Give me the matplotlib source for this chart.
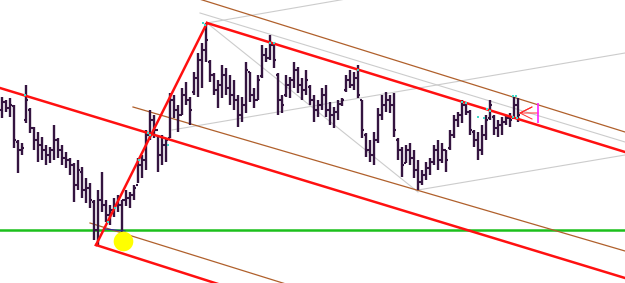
import numpy as np
import matplotlib
matplotlib.use("Agg")
import matplotlib.pyplot as plt

# chart rows: level grows downward (price scale is drawn inverted, like the terminal screen)
bar_hi = [97, 100, 98, 105, 140, 143, 85, 108, 127, 132,
          137, 145, 147, 125, 138, 145, 152, 158, 163, 160,
          167, 178, 183, 200, 190, 172, 200, 205, 198, 195,
          200, 190, 192, 185, 158, 155, 130, 110, 115, 135,
          135, 138, 93, 95, 105, 88, 82, 97, 72, 53,
          43, 23, 60, 73, 80, 65, 68, 75, 80, 95,
          97, 62, 72, 88, 75, 45, 48, 35, 42, 73,
          95, 75, 77, 62, 67, 78, 70, 85, 95, 100,
          88, 85, 102, 107, 100, 98, 75, 70, 72, 65,
          100, 133, 140, 132, 108, 95, 92, 95, 93, 138,
          147, 145, 143, 150, 160, 170, 162, 158, 145, 140,
          143, 150, 130, 115, 112, 100, 102, 110, 130, 132,
          125, 115, 100, 115, 120, 117, 115, 113, 97, 98]
bar_lo = [118, 112, 117, 148, 173, 155, 123, 133, 150, 162,
          160, 165, 163, 160, 158, 165, 168, 175, 202, 190,
          198, 203, 208, 240, 245, 212, 222, 225, 217, 212,
          237, 206, 208, 200, 183, 178, 170, 140, 138, 172,
          165, 162, 138, 118, 132, 115, 105, 125, 95, 97,
          88, 62, 82, 95, 108, 98, 95, 105, 110, 127,
          122, 113, 102, 108, 100, 78, 62, 60, 68, 115,
          113, 97, 98, 88, 93, 100, 95, 105, 122, 117,
          110, 117, 125, 128, 120, 106, 92, 88, 90, 98,
          138, 157, 162, 165, 143, 120, 112, 113, 137, 160,
          177, 163, 165, 178, 190, 185, 180, 175, 165, 170,
          163, 172, 150, 138, 127, 123, 115, 135, 147, 160,
          155, 140, 120, 135, 137, 135, 125, 127, 118, 122]
bar_open = [110, 102, 108, 106, 142, 150, 120, 110, 128, 140,
            145, 150, 155, 150, 140, 150, 158, 160, 165, 185,
            172, 190, 188, 202, 230, 200, 205, 215, 210, 205,
            205, 200, 198, 195, 185, 165, 160, 135, 120, 130,
            155, 145, 138, 100, 110, 115, 95, 100, 92, 78,
            60, 50, 62, 75, 90, 85, 75, 88, 95, 100,
            115, 105, 72, 95, 100, 76, 55, 58, 45, 75,
            100, 95, 85, 80, 70, 85, 90, 87, 100, 110,
            105, 95, 110, 115, 112, 104, 90, 80, 85, 78,
            100, 135, 150, 155, 140, 115, 105, 100, 105, 140,
            150, 163, 150, 158, 170, 182, 175, 168, 162, 150,
            160, 150, 148, 135, 120, 115, 105, 112, 132, 140,
            150, 135, 118, 117, 128, 125, 122, 118, 118, 105]
bar_close = [102, 108, 105, 140, 150, 148, 100, 128, 140, 145,
             150, 155, 150, 140, 150, 158, 160, 165, 185, 170,
             190, 188, 200, 230, 200, 205, 215, 210, 205, 205,
             200, 198, 195, 188, 165, 160, 135, 120, 130, 155,
             145, 140, 100, 110, 115, 95, 100, 110, 78, 60,
             50, 40, 75, 90, 85, 75, 88, 95, 100, 115,
             105, 70, 95, 100, 80, 55, 58, 45, 60, 100,
             105, 85, 80, 70, 85, 90, 80, 100, 110, 105,
             95, 110, 115, 112, 104, 100, 80, 85, 78, 95,
             130, 150, 155, 140, 115, 105, 100, 105, 130, 150,
             165, 150, 158, 170, 182, 175, 168, 162, 150, 160,
             150, 160, 135, 120, 115, 105, 112, 130, 140, 150,
             135, 120, 105, 128, 125, 122, 118, 120, 105, 115]

# trendlines as (bar0, level0, bar1, level1)
red_lines = [(-0.5, 88, 155.75, 278), (23.5, 245, 59.5, 291),
             (23.5, 245, 51.25, 23), (51.25, 23, 155.75, 152)]
brown_lines = [(48.5, -2, 155.75, 132), (32.75, 107, 155.75, 251),
               (22, 223, 75, 289)]
gray_lines = [(49.5, 13, 155.75, 142), (51.25, 23, 86, -1),
              (51.25, 23, 104, 192), (42.5, 130, 155.75, 53),
              (104, 190, 155.75, 155)]
support_level = 230
pivot_bar, pivot_level = 30.25, 241
touch_bar = [5.75, 26.5, 28.25, 34.25, 36.5, 37.0, 41.5, 50.25, 50.75, 67.0, 68.0,
             89.0, 115.0, 116.0, 121.25, 122.0, 127.75, 128.5, 127.75, 128.75,
             119.0, 120.5]
touch_level = [95, 222, 208, 160, 133, 135, 145, 23, 25, 43, 43,
               70, 102, 103, 109, 111, 96, 96, 117, 118, 117, 118]

fig = plt.figure(figsize=(6.25, 2.83), dpi=100)
ax = fig.add_axes([0, 0, 1, 1])
ax.set_xlim(-0.5, 155.75)
ax.set_ylim(283, 0)
ax.axis("off")

ax.axhline(support_level, color="#1cc01c", lw=1.8, zorder=1)

for x0, y0, x1, y1 in gray_lines:
    ax.plot([x0, x1], [y0, y1], color="#cccccc", lw=0.8, zorder=1)
for x0, y0, x1, y1 in brown_lines:
    ax.plot([x0, x1], [y0, y1], color="#b0602c", lw=0.9, zorder=1)

idx = np.arange(len(bar_hi))
bar_color = "#341440"
ax.vlines(idx, bar_hi, bar_lo, color=bar_color, lw=1.7, zorder=3)
ax.hlines(bar_open, idx - 0.45, idx, color=bar_color, lw=1.5, zorder=3)
ax.hlines(bar_close, idx, idx + 0.45, color=bar_color, lw=1.5, zorder=3)

for x0, y0, x1, y1 in red_lines:
    ax.plot([x0, x1], [y0, y1], color="#ff1010", lw=1.8, zorder=4)

ax.scatter(touch_bar, touch_level, s=4, marker="s", color="#40d8c8",
           linewidths=0, zorder=5)

# small markers near the low and at the last bar
ax.plot([25.75, 30.75], [229, 231], color="#2a2aa0", lw=0.8, zorder=5)
ax.plot([129.5, 132.5, 129.5, 134], [113, 107, 113, 113], color="#ff3030", lw=0.7, zorder=5)
ax.plot([129.5, 132.5], [113, 119], color="#ff3030", lw=0.7, zorder=5)
ax.vlines(134, 103, 123, color="#ff20ff", lw=1.2, zorder=5)

ax.scatter([pivot_bar], [pivot_level], s=200, color="#ffff00", linewidths=0, zorder=6)

fig.savefig("out.png", dpi=100, facecolor="white")
